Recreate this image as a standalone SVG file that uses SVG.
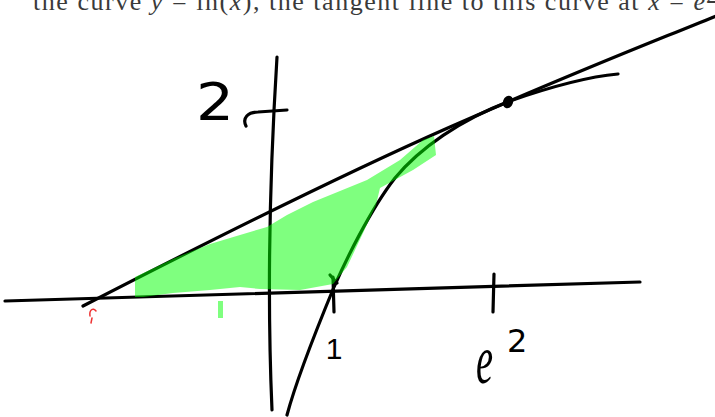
<svg xmlns="http://www.w3.org/2000/svg" width="715" height="417" viewBox="0 0 715 417">
<style>
.ink{fill:none;stroke:#000;stroke-width:3.2;stroke-linecap:round;stroke-linejoin:round}
.hl{fill:#00ff00;opacity:0.5}
.hand{font-family:"DejaVu Sans",sans-serif;fill:#000}
.cap{font-family:"Liberation Serif",serif;font-size:26px;fill:#3a3a3a}
</style>
<rect width="715" height="417" fill="#fff"/>
<g id="caption">
<text class="cap" x="33" y="10" textLength="672" lengthAdjust="spacing">the curve <tspan font-style="italic">y</tspan> = ln(<tspan font-style="italic">x</tspan>), the tangent line to this curve at <tspan font-style="italic">x</tspan> = <tspan font-style="italic">e</tspan></text>
<text class="cap" x="706" y="3" font-size="16">2</text>
</g>
<g id="axes">
<path class="ink" d="M5,301 Q300,291 640,282"/>
<path class="ink" d="M277,57 Q265,250 272,410"/>
<path class="ink" d="M246,126 C242,118 248,112 258,112 L287,110"/>
<path class="ink" d="M333,277 L334,312"/>
<path class="ink" d="M494,274 L493,312"/>
</g>
<g id="curves">
<path class="ink" d="M83,306 C180,256 330,180 450,127 S640,47 716,16"/>
<path class="ink" d="M287,415 C295,385 310,345 334,287 C345,262 370,210 395,178 C420,148 460,120 510,101 C550,87 585,77 618,74"/>
<path class="ink" d="M330,275 L337,283"/>
<ellipse cx="508" cy="102" rx="5" ry="6.5" transform="rotate(20 508 102)" fill="#000"/>
</g>
<g id="shading">
<path class="hl" d="M135,277 L175,258 L210,244 L240,235 L267,227 L287,215 L313,202 L367,180 L400,160 L423,140 L434,136 L436,155 L413,170 L380,188 L376,205 L363,233 L347,267 L333,284 L300,290 L260,289 L240,287 L210,290 L173,293 L143,297 L135,297 Z"/>
<rect class="hl" x="218" y="301" width="5" height="17"/>
</g>
<g id="labels">
<text class="hand" x="196" y="120" font-size="51" textLength="38" lengthAdjust="spacingAndGlyphs">2</text>
<text x="334" y="359" font-family="Liberation Sans, sans-serif" font-size="30" text-anchor="middle">1</text>
<text x="476" y="383" font-family="Liberation Serif, serif" font-style="italic" font-size="70" textLength="17" lengthAdjust="spacingAndGlyphs">e</text>
<text class="hand" x="507" y="352" font-size="32">2</text>
</g>
<g id="mark">
<path d="M90,316 C89,310 93,307 96,311 M92,318 L91,323" fill="none" stroke="#e33" stroke-width="1.5" stroke-linecap="round"/>
</g>
</svg>
